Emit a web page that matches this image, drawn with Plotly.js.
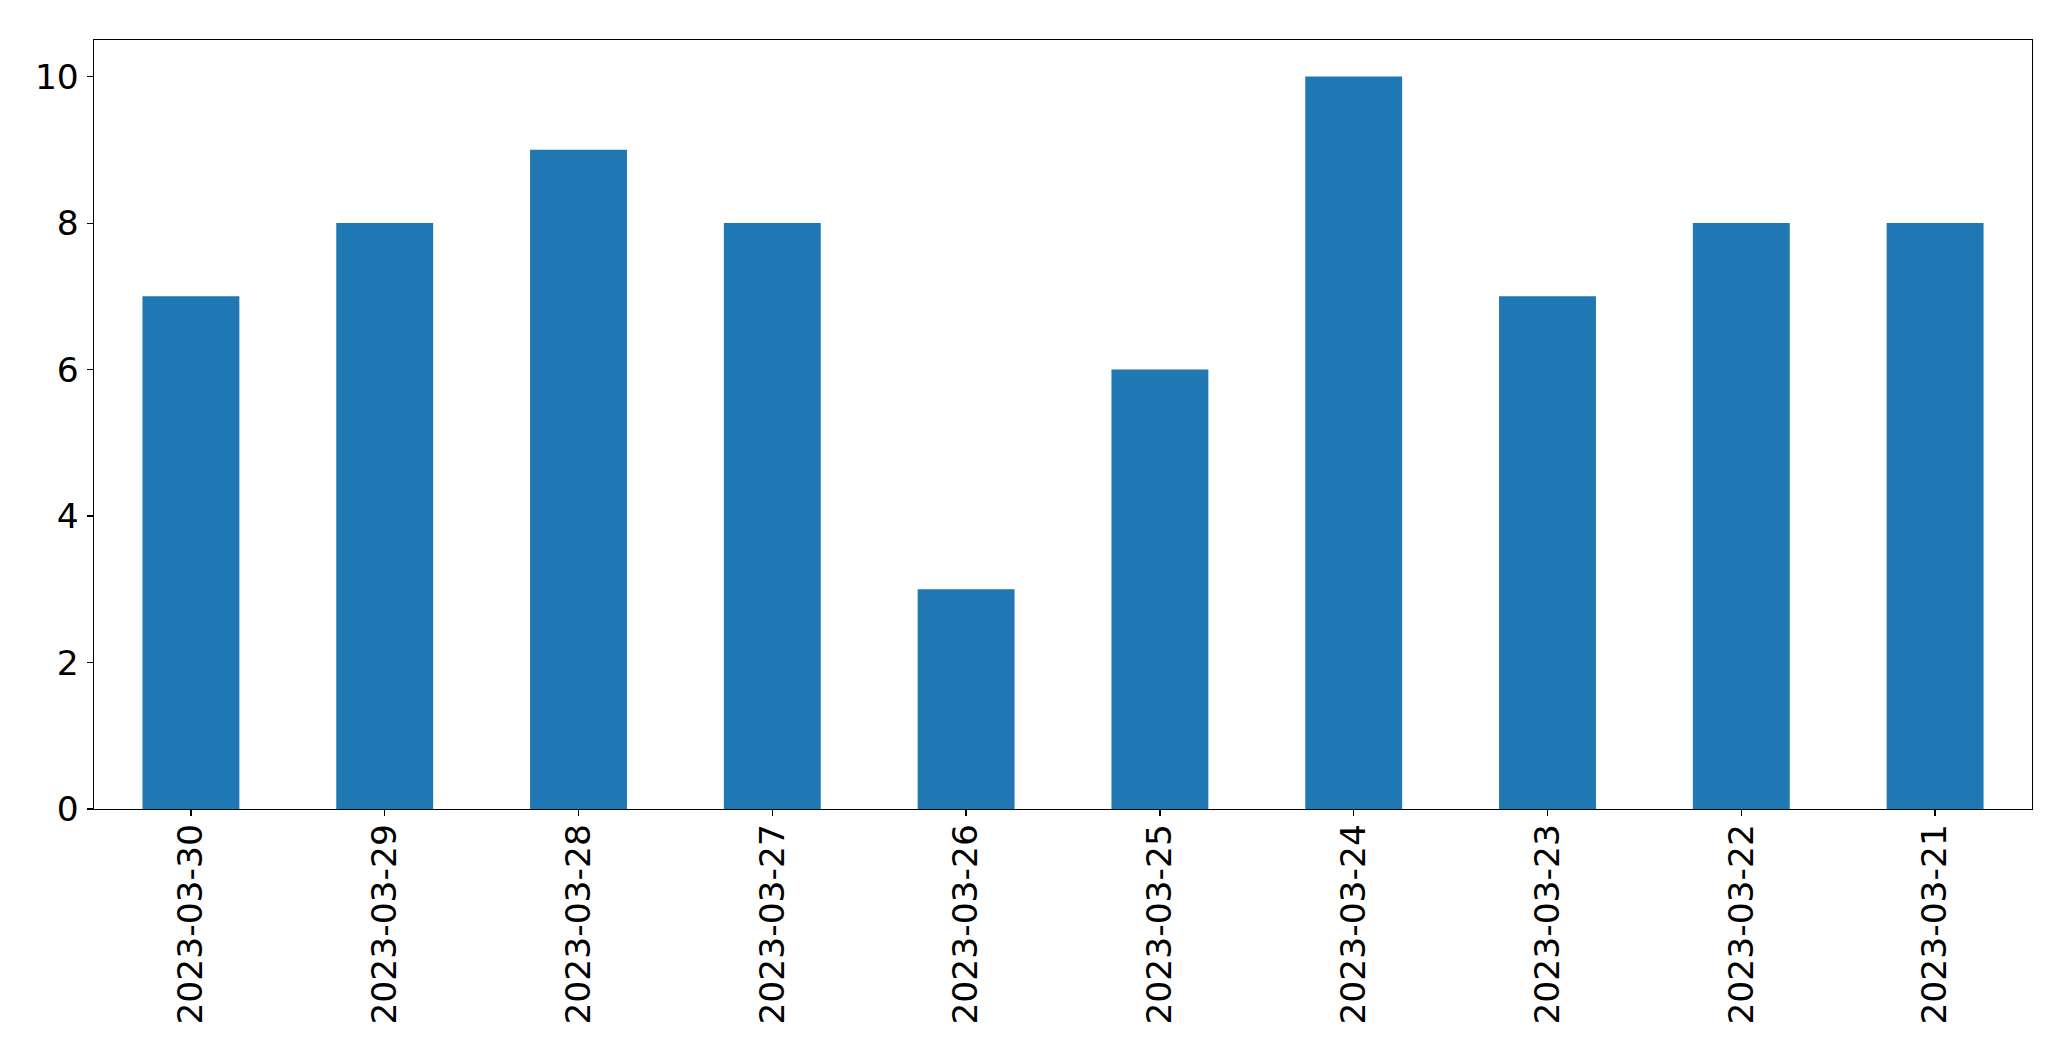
<!DOCTYPE html>
<html>
<head>
<meta charset="utf-8">
<script src="https://cdn.plot.ly/plotly-3.0.1.min.js"></script>
<style>html,body{margin:0;padding:0;background:#fff;}#chart{width:2071px;height:1061px;}</style>
</head>
<body>
<div id="chart"></div>
<script>
const dates = ["2023-03-30","2023-03-29","2023-03-28","2023-03-27","2023-03-26","2023-03-25","2023-03-24","2023-03-23","2023-03-22","2023-03-21"];
const counts = [7, 8, 9, 8, 3, 6, 10, 7, 8, 8];
const yTicks = [0, 2, 4, 6, 8, 10];

const font = {family: "DejaVu Sans", size: 34.5, color: "#000"};
Plotly.newPlot("chart", [{
  type: "bar",
  x: dates,
  y: counts,
  marker: {color: "#1f77b4", line: {width: 0}},
  hoverinfo: "x+y"
}], {
  width: 2071, height: 1061,
  margin: {l: 94, r: 39, t: 40, b: 252, pad: 0},
  paper_bgcolor: "#fff", plot_bgcolor: "#fff",
  font: font,
  bargap: 0.5,
  showlegend: false,
  xaxis: {
    type: "category", range: [-0.5, 9.5],
    tickangle: -90, ticks: "outside", ticklen: 6, tickwidth: 1.2, tickcolor: "#000",
    ticklabelstandoff: -6,
    showline: true, linecolor: "#000", linewidth: 1.3, mirror: true,
    showgrid: false, zeroline: false, tickfont: font, automargin: false
  },
  yaxis: {
    range: [0, 10.5], tickvals: yTicks, ticktext: yTicks.map(String),
    ticks: "outside", ticklen: 6, tickwidth: 1.2, tickcolor: "#000",
    ticklabelstandoff: 1,
    showline: true, linecolor: "#000", linewidth: 1.3, mirror: true,
    showgrid: false, zeroline: false, tickfont: font, automargin: false
  }
}, {staticPlot: true});
</script>
</body>
</html>
